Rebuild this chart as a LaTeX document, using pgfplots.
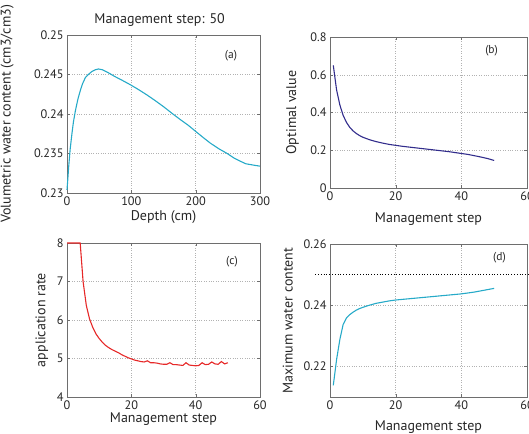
\documentclass[border=0pt]{standalone}
\usepackage{fontspec}
\setmainfont{PT Sans}
\usepackage{pgfplots}
\pgfplotsset{compat=1.18}

\definecolor{cyanline}{RGB}{38,170,200}
\definecolor{navyline}{RGB}{50,45,140}
\definecolor{redline}{RGB}{230,40,40}
\definecolor{axgray}{RGB}{110,110,110}

\tikzset{plab/.style={font=\fontsize{11.5}{13}\selectfont, text=black!85}}
\pgfplotsset{
  mstyle/.style={
    scale only axis,
    axis line style={axgray},
    tick style={axgray, major tick length=3pt},
    tick align=inside,
    grid=major,
    major grid style={dotted, gray!60},
    tick label style={font=\fontsize{12.3}{13}\selectfont, text=black!85},
    label style={font=\fontsize{14}{16}\selectfont, text=black!85},
    /pgf/number format/assume math mode=true,
    scaled ticks=false,
    clip=false,
  },
}

\begin{document}
\begin{tikzpicture}
\useasboundingbox (0pt,0pt) rectangle (529pt,-433pt);

% (a)
\begin{axis}[mstyle,
  at={(67pt,-193pt)}, anchor=south west, width=193pt, height=158pt,
  xmin=0, xmax=300, ymin=0.23, ymax=0.25,
  xtick={0,100,200,300}, ytick={0.23,0.235,0.24,0.245,0.25},
  yticklabels={0.23,0.235,0.24,0.245,0.25},
  xlabel={Depth (cm)}, ylabel={Volumetric water content (cm3/cm3)},
  xlabel style={at={(axis description cs:0.5,-0.15)}, anchor=center},
  ylabel style={at={(axis description cs:-0.31,0.5)}, anchor=center},
  title={Management step: 50},
  title style={font=\fontsize{14}{16}\selectfont, text=black!85, at={(axis description cs:0.48,1.055)}, anchor=center},
]
\addplot[cyanline, line width=1.1pt] coordinates {
  (0,0.2304) (1.3,0.2318) (2.6,0.2333) (5,0.2356) (7.8,0.2376) (10,0.2390)
  (13,0.2404) (17,0.2419) (20.8,0.2430) (24,0.2438) (28.5,0.2446)
  (33,0.2450) (39,0.2454) (44,0.2456) (49,0.2457) (55,0.2456) (60,0.2454)
  (67,0.2451) (73,0.2448) (85,0.2443) (98.6,0.2437) (111,0.2431)
  (124.5,0.2424) (137,0.2417) (150.5,0.2409) (163,0.2401) (176,0.2393)
  (188,0.2386) (200,0.2378) (212,0.2370) (223,0.2363) (236,0.2356)
  (249,0.2350) (260,0.2344) (270,0.2340) (278,0.2337) (285,0.2336)
  (292,0.2335) (300,0.2334)
};
\node[plab] at (rel axis cs:0.85,0.87) {(a)};
\end{axis}

% (b)
\begin{axis}[mstyle,
  at={(330pt,-188pt)}, anchor=south west, width=197pt, height=151pt,
  xmin=0, xmax=60, ymin=0, ymax=0.8,
  xtick={0,20,40,60}, ytick={0,0.2,0.4,0.6,0.8},
  xlabel={Management step}, ylabel={Optimal value},
  xlabel style={at={(axis description cs:0.5,-0.205)}, anchor=center},
  ylabel style={at={(axis description cs:-0.19,0.5)}, anchor=center},
]
\addplot[navyline, line width=1.1pt] coordinates {
  (1,0.65) (2,0.52) (3,0.44) (4,0.385) (5,0.348) (6,0.322) (7,0.303)
  (8,0.289) (9,0.278) (10,0.269) (12,0.256) (14,0.246) (16,0.238)
  (18,0.231) (20,0.226) (22,0.221) (24,0.217) (26,0.213) (28,0.209)
  (30,0.205) (32,0.201) (34,0.197) (36,0.193) (38,0.188) (40,0.183)
  (42,0.178) (44,0.171) (46,0.164) (48,0.156) (50,0.146)
};
\node[plab] at (rel axis cs:0.82,0.91) {(b)};
\end{axis}

% (c)
\begin{axis}[mstyle,
  at={(67pt,-397pt)}, anchor=south west, width=193pt, height=154pt,
  xmin=0, xmax=60, ymin=4, ymax=8,
  xtick={0,20,40,60}, ytick={4,5,6,7,8},
  xlabel={Management step}, ylabel={application rate},
  xlabel style={at={(axis description cs:0.5,-0.145)}, anchor=center},
  ylabel style={at={(axis description cs:-0.13,0.5)}, anchor=center},
]
\addplot[redline, line width=1.1pt] coordinates {
  (0,8) (1,8) (2,8) (3,8) (4.1,8) (5,7.0) (6,6.38) (7,6.03) (8,5.81)
  (9,5.64) (10,5.52) (11,5.42) (12,5.34) (13,5.28) (14,5.23) (15,5.19)
  (16,5.15) (17,5.10) (18,5.06) (19,5.02) (20,4.99) (21,4.96) (22,4.94)
  (23,4.92) (24,4.91) (25,4.94) (26,4.89) (27,4.89) (28,4.88) (29,4.86)
  (30,4.85) (31,4.85) (32,4.89) (33,4.84) (34,4.84) (35,4.83) (36,4.82)
  (37,4.89) (38,4.83) (39,4.82) (40,4.81) (41,4.82) (42,4.89) (43,4.84)
  (44,4.85) (45,4.91) (46,4.86) (47,4.85) (48,4.92) (49,4.86) (50,4.89)
};
\node[plab] at (rel axis cs:0.855,0.88) {(c)};
\end{axis}

% (d)
\begin{axis}[mstyle,
  at={(330pt,-397pt)}, anchor=south west, width=197pt, height=153pt,
  xmin=0, xmax=60, ymin=0.21, ymax=0.26,
  xtick={0,20,40,60}, ytick={0.22,0.24,0.26},
  yticklabels={0.22,0.24,0.26},
  xlabel={Management step}, ylabel={Maximum water content},
  xlabel style={at={(axis description cs:0.5,-0.195)}, anchor=center},
  ylabel style={at={(axis description cs:-0.215,0.5)}, anchor=center},
]
\addplot[black, dotted, thick] coordinates {(-4.5,0.25) (61,0.25)};
\addplot[cyanline, line width=1.1pt] coordinates {
  (1,0.2138) (2,0.2222) (3,0.2288) (4,0.2337) (5,0.2358) (6,0.2369)
  (7,0.2377) (8,0.2384) (9,0.2389) (10,0.2393) (12,0.2400) (14,0.2406)
  (16,0.2410) (18,0.2414) (20,0.2417) (22,0.2419) (24,0.2421)
  (26,0.2423) (28,0.2425) (30,0.2427) (32,0.2429) (34,0.2431)
  (36,0.2433) (38,0.2435) (40,0.2437) (42,0.2440) (44,0.2443)
  (46,0.2447) (48,0.2451) (50,0.2455)
};
\node[plab] at (rel axis cs:0.86,0.91) {(d)};
\end{axis}
\end{tikzpicture}
\end{document}
